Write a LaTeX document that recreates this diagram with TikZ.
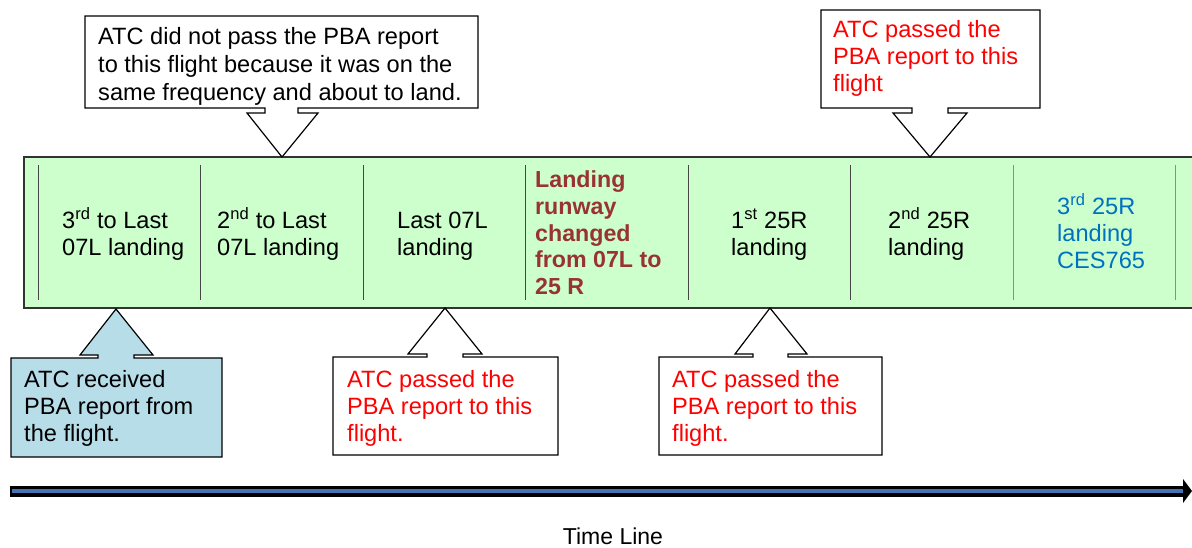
\documentclass[tikz,border=0pt]{standalone}
\usepackage{fontspec}
\setmainfont{Liberation Sans}
\definecolor{bandgreen}{RGB}{204,255,204}
\definecolor{calloutblue}{RGB}{183,221,232}
\definecolor{pbared}{RGB}{255,0,0}
\definecolor{darkred}{RGB}{153,51,51}
\definecolor{landblue}{RGB}{0,112,192}
\definecolor{tlblue}{RGB}{70,114,180}
\definecolor{divdark}{RGB}{70,70,70}
\definecolor{divgreen}{RGB}{128,150,128}
\newcommand\supx[1]{\smash{\textsuperscript{#1}}}
\begin{document}
\begin{tikzpicture}[x=1pt,y=-1pt,
  txt/.style={inner sep=0pt, anchor=north west, align=left, font=\fontsize{23.6}{27}\selectfont},
  txtwide/.style={inner sep=0pt, anchor=north west, align=left, font=\fontsize{23.6}{28}\selectfont},
  band/.style={draw=black!80, line width=1.6pt, fill=bandgreen},
  divline/.style={line width=1pt},
  callout/.style={draw=black, line width=1.2pt, fill=white, line join=miter},
  bluecallout/.style={callout, fill=calloutblue}]
\useasboundingbox (0,0) rectangle (1192,547);

% band of landings
\draw[band] (24,157) rectangle (1215,308);
\foreach \x in {38,200,363,525,688,850}
  \draw[divline, divdark] (\x,165) -- (\x,300);
\foreach \x in {1013,1175}
  \draw[divline, divgreen] (\x,165) -- (\x,300);

% column texts (first baseline - 18.9)
\node[txt] (c1) at (62,209.1) {\strut 3\supx{rd} to Last\\07L landing};
\node[txt] (c2) at (217,209.1) {\strut 2\supx{nd} to Last\\07L landing};
\node[txt] (c3) at (397,209.1) {\strut Last 07L\\landing};
\node[txt, text=darkred, font=\fontsize{23.2}{26.8}\selectfont\bfseries] (c4) at (535,168.6) {\strut Landing\\runway\\changed\\from 07L to\\25 R};
\node[txt] (c5) at (731,209.1) {\strut 1\supx{st} 25R\\landing};
\node[txt] (c6) at (888,209.1) {\strut 2\supx{nd} 25R\\landing};
\node[txt, text=landblue] (c7) at (1057,195.1) {\strut 3\supx{rd} 25R\\landing\\CES765};

% top callouts
\draw[callout] (85,16) -- (478,16) -- (478,108) -- (298,108) -- (298,113) -- (318,113)
  -- (282,157) -- (247,113) -- (265,113) -- (265,108) -- (85,108) -- cycle;
\node[txtwide] (t1) at (98,25.1) {\strut ATC did not pass the PBA report\\to this flight because it was on the\\same frequency and about to land.};

\draw[callout] (821,10) -- (1040,10) -- (1040,108) -- (948,108) -- (948,113) -- (967,113)
  -- (930,157) -- (893,113) -- (912,113) -- (912,108) -- (821,108) -- cycle;
\node[txt, text=pbared] (t2) at (833,18.1) {\strut ATC passed the\\PBA report to this\\flight};

% bottom callouts
\draw[bluecallout] (11,358) -- (98,358) -- (98,355) -- (80,355) -- (116,309) -- (153,355)
  -- (134,355) -- (134,358) -- (222,358) -- (222,457) -- (11,457) -- cycle;
\node[txt] (b1) at (24,368.1) {\strut ATC received\\PBA report from\\the flight.};

\draw[callout] (333,357) -- (427,357) -- (427,354) -- (408,354) -- (445,308) -- (482,354)
  -- (463,354) -- (463,357) -- (558,357) -- (558,455) -- (333,455) -- cycle;
\node[txt, text=pbared] (b2) at (347,368.1) {\strut ATC passed the\\PBA report to this\\flight.};

\draw[callout] (659,357) -- (753,357) -- (753,354) -- (735,354) -- (770,308) -- (807,354)
  -- (788,354) -- (788,357) -- (882,357) -- (882,455) -- (659,455) -- cycle;
\node[txt, text=pbared] (b3) at (672,368.1) {\strut ATC passed the\\PBA report to this\\flight.};

% time line
\coordinate (tlA) at (10,491);
\coordinate (tlB) at (1185,491);
\coordinate (tlC) at (12,491);
\coordinate (tlD) at (1183,491);
\draw[line width=11pt, black] (tlA) -- (tlB);
\draw[line width=4.5pt, tlblue] (tlC) -- (tlD);
\fill[black] (1183,479) -- (1192,491) -- (1183,503) -- cycle;
\node[inner sep=0pt, anchor=base, font=\fontsize{23}{27}\selectfont] (tl) at (613,544) {Time Line};
\end{tikzpicture}
\end{document}
